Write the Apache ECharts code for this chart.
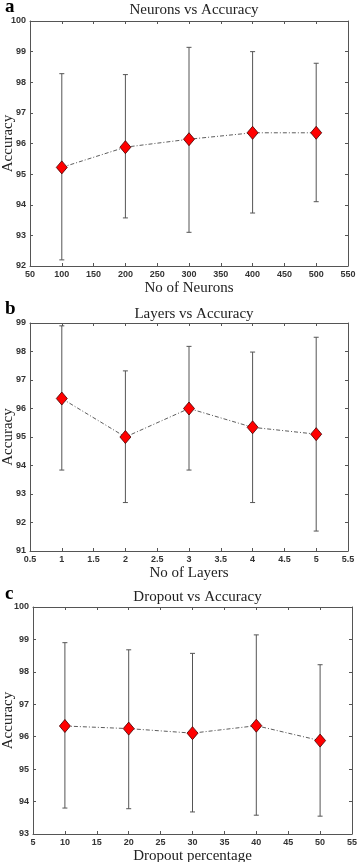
<!DOCTYPE html>
<html><head><meta charset="utf-8">
<script src="https://cdn.jsdelivr.net/npm/echarts@6/dist/echarts.min.js"></script>
<style>html,body{margin:0;padding:0;background:#fff}#c{width:357px;height:862px}</style>
</head><body><div id="c"></div>
<script>
var neurons = [100, 200, 300, 400, 500];
var neuronAcc = [95.22, 95.88, 96.14, 96.35, 96.35];
var neuronHigh = [98.28, 98.25, 99.14, 99.0, 98.62];
var neuronLow = [92.2, 93.57, 93.1, 93.73, 94.1];

var layers = [1, 2, 3, 4, 5];
var layerAcc = [96.35, 95.0, 96.0, 95.34, 95.1];
var layerHigh = [98.9, 97.32, 98.18, 97.98, 98.5];
var layerLow = [93.84, 92.7, 93.84, 92.7, 91.7];

var dropout = [10, 20, 30, 40, 50];
var dropAcc = [96.33, 96.25, 96.11, 96.34, 95.88];
var dropHigh = [98.9, 98.68, 98.57, 99.14, 98.22];
var dropLow = [93.8, 93.78, 93.68, 93.58, 93.55];

var titles = ['Neurons vs Accuracy', 'Layers vs Accuracy', 'Dropout vs Accuracy'];
var xNames = ['No of Neurons', 'No of Layers', 'Dropout percentage'];
var letters = ['a', 'b', 'c'];

var panels = [
  {x: neurons, y: neuronAcc, hi: neuronHigh, lo: neuronLow, xmin: 50, xmax: 550, xint: 50, ymin: 92, ymax: 100,
   grid: {left: 30, right: 9, top: 21, height: 245}, titleTop: -2, letterTop: -7, yGap: 14},
  {x: layers, y: layerAcc, hi: layerHigh, lo: layerLow, xmin: 0.5, xmax: 5.5, xint: 0.5, ymin: 91, ymax: 99,
   grid: {left: 30, right: 9, top: 323, height: 228}, titleTop: 302, letterTop: 295, yGap: 14},
  {x: dropout, y: dropAcc, hi: dropHigh, lo: dropLow, xmin: 5, xmax: 55, xint: 5, ymin: 93, ymax: 100,
   grid: {left: 33, right: 5, top: 607, height: 227}, titleTop: 585, letterTop: 580, yGap: 17}
];

var serif = 'Liberation Serif';
var sans = 'Liberation Sans';
var axisCol = '#555';

var option = {backgroundColor: '#fff', animation: false, grid: [], xAxis: [], yAxis: [], series: [], title: []};

panels.forEach(function (p, i) {
  option.grid.push(Object.assign({containLabel: false, outerBoundsMode: 'none'}, p.grid));
  option.title.push({text: titles[i], left: p.grid.left + (357 - p.grid.left - p.grid.right) / 2, textAlign: 'center', top: p.titleTop,
    textStyle: {fontFamily: serif, fontSize: 15, fontWeight: 'normal', color: '#222'}});
  option.title.push({text: letters[i], left: 0, top: p.letterTop,
    textStyle: {fontFamily: serif, fontSize: 19, fontWeight: 'bold', color: '#000'}});
  var common = {gridIndex: i, type: 'value', splitLine: {show: false},
    axisLine: {show: true, onZero: false, lineStyle: {color: axisCol, width: 1}},
    axisTick: {show: true, inside: true, length: 3, lineStyle: {color: axisCol}}};
  option.xAxis.push(Object.assign({}, common, {position: 'bottom', min: p.xmin, max: p.xmax, interval: p.xint,
    name: xNames[i], nameLocation: 'middle', nameGap: 15, nameMoveOverlap: false,
    nameTextStyle: {fontFamily: serif, fontSize: 15, color: '#222'},
    axisLabel: {fontFamily: sans, fontSize: 9, fontWeight: 'bold', color: '#333', margin: 4}}));
  option.xAxis.push(Object.assign({}, common, {position: 'top', min: p.xmin, max: p.xmax, interval: p.xint, axisLabel: {show: false}}));
  option.yAxis.push(Object.assign({}, common, {position: 'left', min: p.ymin, max: p.ymax, interval: 1,
    name: 'Accuracy', nameLocation: 'middle', nameGap: p.yGap, nameMoveOverlap: false,
    nameTextStyle: {fontFamily: serif, fontSize: 15, color: '#222'},
    axisLabel: {fontFamily: sans, fontSize: 9, fontWeight: 'bold', color: '#333', margin: 4}}));
  option.yAxis.push(Object.assign({}, common, {position: 'right', min: p.ymin, max: p.ymax, interval: 1, axisLabel: {show: false}}));

  var errData = p.x.map(function (xv, k) { return [xv, p.lo[k], p.hi[k]]; });
  option.series.push({
    type: 'custom', xAxisIndex: 2 * i, yAxisIndex: 2 * i, data: errData, z: 2,
    renderItem: function (params, api) {
      var xv = api.value(0);
      var lo = api.coord([xv, api.value(1)]);
      var hi = api.coord([xv, api.value(2)]);
      var w = 2.5;
      var st = {stroke: '#555', lineWidth: 1};
      return {type: 'group', children: [
        {type: 'line', shape: {x1: lo[0], y1: lo[1], x2: hi[0], y2: hi[1]}, style: st},
        {type: 'line', shape: {x1: lo[0] - w, y1: lo[1], x2: lo[0] + w, y2: lo[1]}, style: st},
        {type: 'line', shape: {x1: hi[0] - w, y1: hi[1], x2: hi[0] + w, y2: hi[1]}, style: st}
      ]};
    }
  });
  option.series.push({
    type: 'line', xAxisIndex: 2 * i, yAxisIndex: 2 * i, z: 3,
    data: p.x.map(function (xv, k) { return [xv, p.y[k]]; }),
    symbol: 'diamond', symbolSize: [11, 13],
    itemStyle: {color: '#ff0000', borderColor: '#400', borderWidth: 0.8},
    lineStyle: {color: '#333', width: 0.8, type: [4, 2, 1, 2]}
  });
});

var chart = echarts.init(document.getElementById('c'), null, {renderer: 'canvas'});
chart.setOption(option);
</script></body></html>
